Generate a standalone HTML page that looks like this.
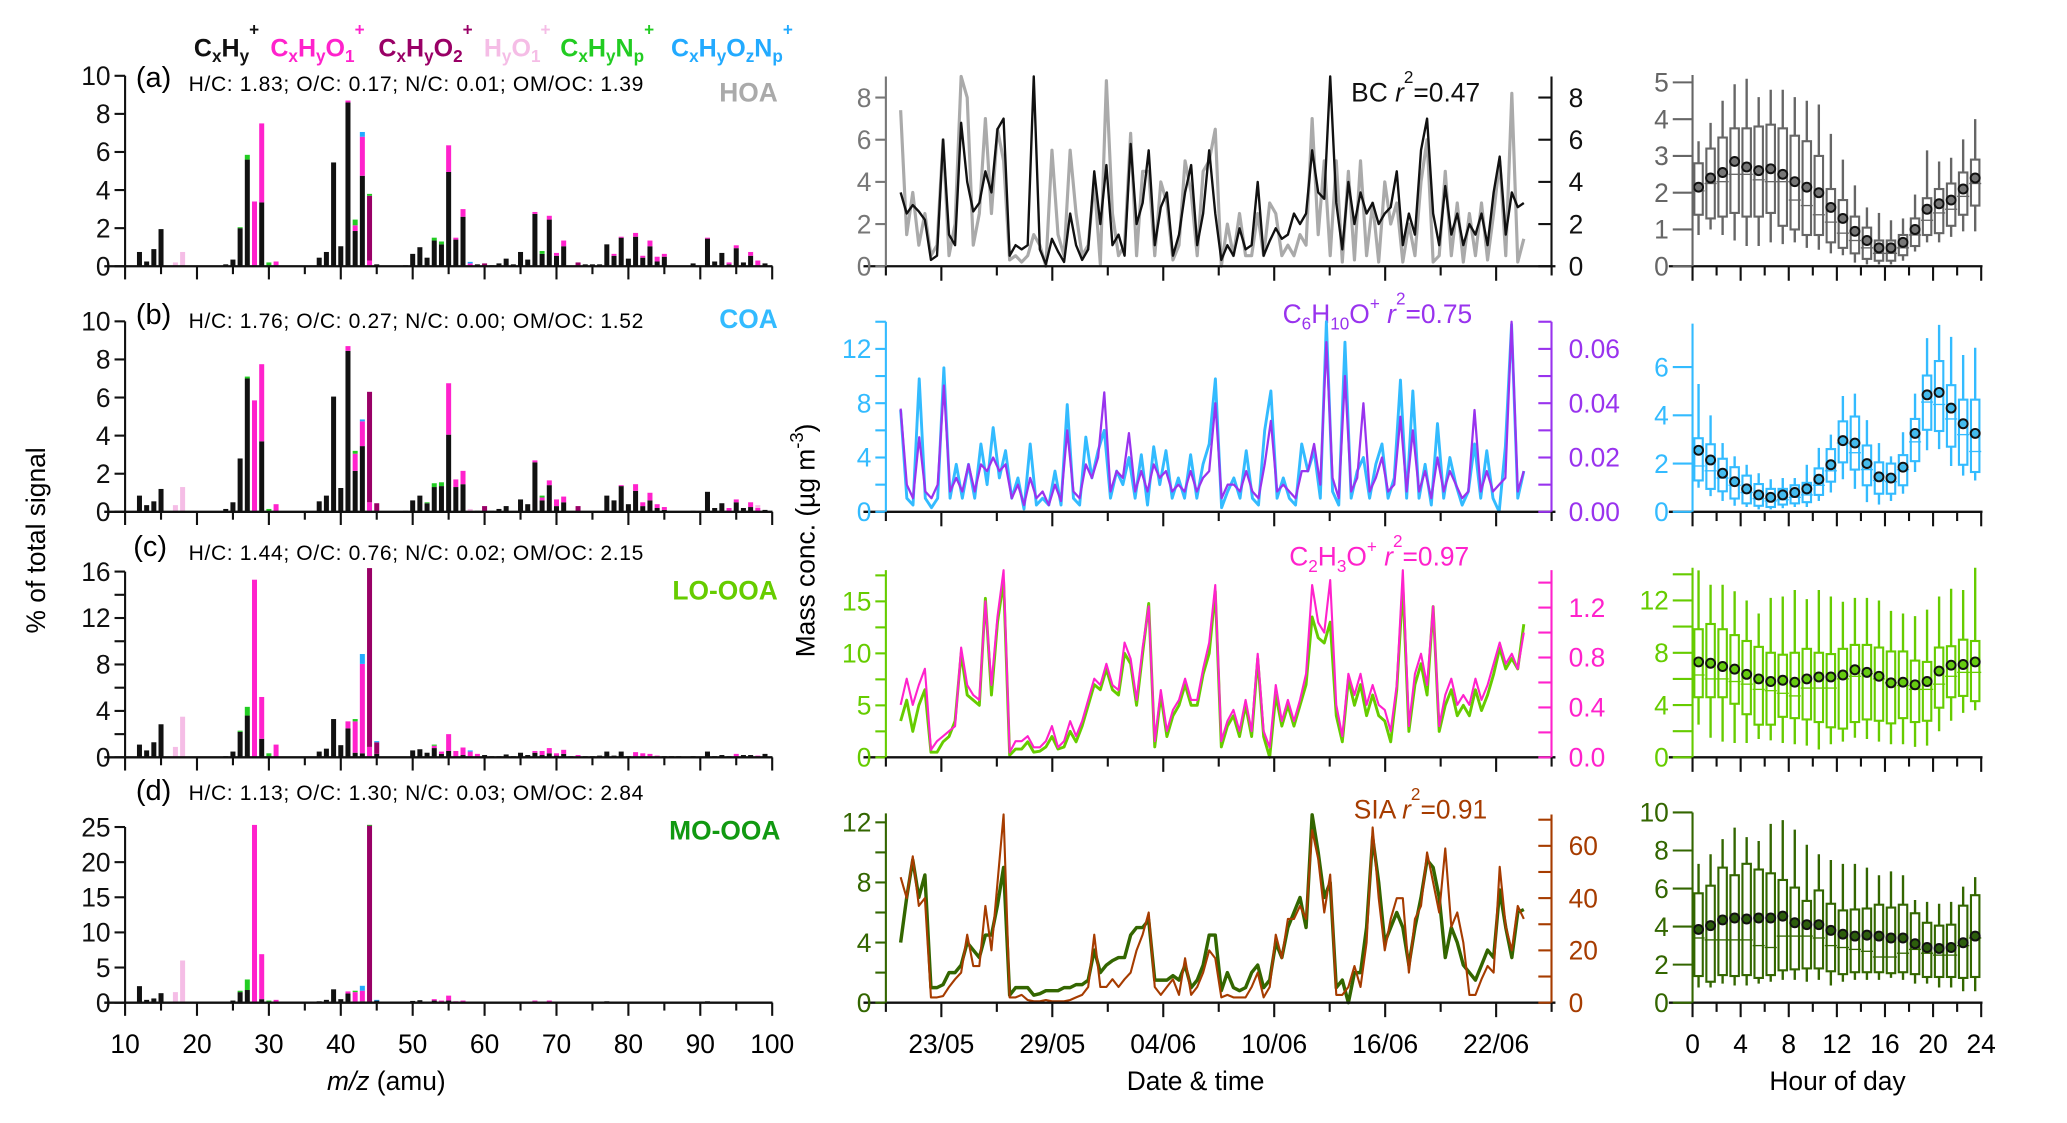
<!DOCTYPE html>
<html><head><meta charset="utf-8"><style>
html,body{margin:0;padding:0;background:#fff;}
svg{display:block;font-family:"Liberation Sans",sans-serif;}
</style></head><body>
<svg id="fig" width="2067" height="1123" viewBox="0 0 1568 852" xmlns="http://www.w3.org/2000/svg">
<g font-weight="bold" font-size="19">
<text x="147" y="43" fill="#111">C<tspan font-size="13" dy="4">x</tspan><tspan dy="-4">H</tspan><tspan font-size="13" dy="4">y</tspan><tspan font-size="13" dy="-20">+</tspan></text>
<text x="205" y="43" fill="#ff22cc">C<tspan font-size="13" dy="4">x</tspan><tspan dy="-4">H</tspan><tspan font-size="13" dy="4">y</tspan><tspan dy="-4">O</tspan><tspan font-size="13" dy="4">1</tspan><tspan font-size="13" dy="-20">+</tspan></text>
<text x="287" y="43" fill="#990066">C<tspan font-size="13" dy="4">x</tspan><tspan dy="-4">H</tspan><tspan font-size="13" dy="4">y</tspan><tspan dy="-4">O</tspan><tspan font-size="13" dy="4">2</tspan><tspan font-size="13" dy="-20">+</tspan></text>
<text x="367" y="43" fill="#f5bde6">H<tspan font-size="13" dy="4">y</tspan><tspan dy="-4">O</tspan><tspan font-size="13" dy="4">1</tspan><tspan font-size="13" dy="-20">+</tspan></text>
<text x="425" y="43" fill="#22cc22">C<tspan font-size="13" dy="4">x</tspan><tspan dy="-4">H</tspan><tspan font-size="13" dy="4">y</tspan><tspan dy="-4">N</tspan><tspan font-size="13" dy="4">p</tspan><tspan font-size="13" dy="-20">+</tspan></text>
<text x="509" y="43" fill="#22aaff">C<tspan font-size="13" dy="4">x</tspan><tspan dy="-4">H</tspan><tspan font-size="13" dy="4">y</tspan><tspan dy="-4">O</tspan><tspan font-size="13" dy="4">z</tspan><tspan dy="-4">N</tspan><tspan font-size="13" dy="4">p</tspan><tspan font-size="13" dy="-20">+</tspan></text>
</g>
<g>
<text x="103" y="66" font-size="22">(a)</text>
<text x="143" y="69" font-size="16" textLength="345">H/C: 1.83; O/C: 0.17; N/C: 0.01; OM/OC: 1.39</text>
<text x="590" y="77" font-size="20" font-weight="bold" fill="#aaaaaa" text-anchor="end">HOA</text>
<text x="103" y="246" font-size="22">(b)</text>
<text x="143" y="249" font-size="16" textLength="345">H/C: 1.76; O/C: 0.27; N/C: 0.00; OM/OC: 1.52</text>
<text x="590" y="249" font-size="20" font-weight="bold" fill="#33bbff" text-anchor="end">COA</text>
<text x="101" y="422" font-size="22">(c)</text>
<text x="143" y="425" font-size="16" textLength="345">H/C: 1.44; O/C: 0.76; N/C: 0.02; OM/OC: 2.15</text>
<text x="590" y="455" font-size="20" font-weight="bold" fill="#66cc00" text-anchor="end">LO-OOA</text>
<text x="103" y="607" font-size="22">(d)</text>
<text x="143" y="607" font-size="16" textLength="345">H/C: 1.13; O/C: 1.30; N/C: 0.03; OM/OC: 2.84</text>
<text x="592" y="637" font-size="20" font-weight="bold" fill="#119911" text-anchor="end">MO-OOA</text>
</g>
<g font-size="20">
<text transform="translate(34,410) rotate(-90)" text-anchor="middle">% of total signal</text>
<text transform="translate(618,410) rotate(-90)" text-anchor="middle">Mass conc. (µg m<tspan font-size="14" dy="-9">-3</tspan><tspan dy="9">)</tspan></text>
<text x="293" y="827" text-anchor="middle"><tspan font-style="italic">m/z</tspan> (amu)</text>
<text x="907" y="827" text-anchor="middle">Date &amp; time</text>
<text x="1394" y="827" text-anchor="middle">Hour of day</text>
</g>
<g font-size="20">
<text x="1025" y="77" fill="#111">BC <tspan font-style="italic">r</tspan><tspan font-size="13" dy="-14">2</tspan><tspan dy="14">=0.47</tspan></text>
<text x="973" y="245" fill="#9933ee">C<tspan font-size="13" dy="5">6</tspan><tspan dy="-5">H</tspan><tspan font-size="13" dy="5">10</tspan><tspan dy="-5">O</tspan><tspan font-size="13" dy="-10">+</tspan><tspan dy="10"> </tspan><tspan font-style="italic">r</tspan><tspan font-size="13" dy="-14">2</tspan><tspan dy="14">=0.75</tspan></text>
<text x="978" y="429" fill="#ff22cc">C<tspan font-size="13" dy="5">2</tspan><tspan dy="-5">H</tspan><tspan font-size="13" dy="5">3</tspan><tspan dy="-5">O</tspan><tspan font-size="13" dy="-10">+</tspan><tspan dy="10"> </tspan><tspan font-style="italic">r</tspan><tspan font-size="13" dy="-14">2</tspan><tspan dy="14">=0.97</tspan></text>
<text x="1027" y="621" fill="#a63c00">SIA <tspan font-style="italic">r</tspan><tspan font-size="13" dy="-14">2</tspan><tspan dy="14">=0.91</tspan></text>
</g>
</svg>
<script>
// ---------- mass spectra data: [m/z, CxHy, CxHyO1, CxHyO2, HyO1, CxHyNp, CxHyOzNp] ----------
const specA = [[12,.75,0,0,0,0,0],[13,.25,0,0,0,0,0],[14,.9,0,0,0,0,0],[15,1.95,0,0,0,0,0],[17,0,0,0,.2,0,0],[18,0,0,0,.75,0,0],[24,.1,0,0,0,0,0],[25,.35,0,0,0,0,0],[26,2.0,0,0,0,.05,0],[27,5.6,0,0,0,.25,0],[28,0,3.4,0,0,0,0],[29,3.35,4.15,0,0,0,0],[30,0,0,0,0,.2,0],[31,0,.25,0,0,0,0],[37,.45,0,0,0,0,0],[38,.75,0,0,0,0,0],[39,5.45,0,0,0,0,0],[40,1.05,0,0,0,0,0],[41,8.6,.1,0,0,0,0],[42,1.85,.3,0,0,.3,0],[43,4.75,2.05,0,0,0,.25],[44,0,.3,3.4,0,.1,0],[45,.1,0,0,0,0,0],[49,.05,0,0,0,0,0],[50,.65,0,0,0,0,0],[51,1.0,0,0,0,0,0],[52,.45,0,0,0,0,0],[53,1.35,0,0,0,.15,0],[54,1.15,0,0,0,.15,0],[55,4.95,1.4,0,0,0,0],[56,1.4,.1,0,0,0,0],[57,2.6,.4,0,0,0,0],[58,0,.15,0,0,0,.08],[59,.1,0,0,0,0,0],[60,0,0,.15,0,0,0],[61,.05,0,0,0,0,0],[62,.15,0,0,0,0,0],[63,.4,0,0,0,0,0],[64,.1,0,0,0,0,0],[65,.75,0,0,0,0,0],[66,.35,0,0,0,0,0],[67,2.75,.1,0,0,0,0],[68,.65,0,0,0,.15,0],[69,2.45,.2,0,0,0,0],[70,.55,.15,0,0,0,0],[71,1.05,.3,0,0,0,0],[73,0,0,.2,0,0,0],[74,.1,0,0,0,0,0],[75,.1,0,0,0,0,0],[76,.1,0,0,0,0,0],[77,1.15,0,0,0,0,0],[78,.55,.1,0,0,0,0],[79,1.5,.05,0,0,0,0],[80,.4,0,0,0,0,0],[81,1.55,.2,0,0,0,0],[82,.45,.1,0,0,0,0],[83,1.05,.3,0,0,0,0],[84,.25,.25,0,0,0,0],[85,.5,.15,0,0,0,0],[89,.15,0,0,0,0,0],[91,1.45,.05,0,0,0,0],[92,.25,0,0,0,0,0],[93,.7,0,0,0,0,0],[94,.1,.1,0,0,0,0],[95,.95,.15,0,0,0,0],[96,.2,0,0,0,0,0],[97,.55,.2,0,0,0,0],[98,0,.3,0,0,0,0],[99,.15,0,0,0,0,0]];
const specB = [[12,.85,0,0,0,0,0],[13,.35,0,0,0,0,0],[14,.55,0,0,0,0,0],[15,1.2,0,0,0,0,0],[17,0,0,0,.35,0,0],[18,0,0,0,1.3,0,0],[24,.15,0,0,0,0,0],[25,.5,0,0,0,0,0],[26,2.8,0,0,0,0,0],[27,7.0,0,0,0,.1,0],[28,0,5.85,0,0,0,0],[29,3.7,4.05,0,0,0,0],[30,0,0,0,0,.15,0],[31,0,.4,0,0,0,0],[37,.55,0,0,0,0,0],[38,.85,0,0,0,0,0],[39,6.05,0,0,0,0,0],[40,1.25,0,0,0,0,0],[41,8.45,.25,0,0,0,0],[42,2.15,.9,0,0,.15,0],[43,3.45,1.3,0,0,0,.1],[44,0,.5,5.8,0,0,0],[45,0,0,.45,0,0,0],[49,.05,0,0,0,0,0],[50,.6,0,0,0,0,0],[51,.85,0,0,0,0,0],[52,.45,0,0,0,.05,0],[53,1.3,0,0,0,.2,0],[54,1.35,0,0,0,.2,0],[55,4.05,2.7,0,0,0,0],[56,1.3,.4,0,0,0,0],[57,1.45,.7,0,0,0,0],[58,0,0,0,.15,0,0],[59,.05,0,0,0,0,0],[60,0,0,.3,0,0,0],[61,.05,0,0,0,0,0],[62,.15,0,0,0,0,0],[63,.3,0,0,0,0,0],[65,.65,0,0,0,0,0],[66,.4,0,0,0,0,0],[67,2.6,.1,0,0,0,0],[68,.6,.15,0,0,.1,0],[69,1.4,.25,0,0,0,0],[70,.3,.35,0,0,0,0],[71,.5,.3,0,0,0,0],[73,0,0,.3,0,0,0],[77,.85,0,0,0,0,0],[78,.6,0,0,0,0,0],[79,1.35,.05,0,0,0,0],[80,.4,0,0,0,0,0],[81,1.1,.35,0,0,0,0],[82,.3,.2,0,0,0,0],[83,.6,.4,0,0,0,0],[84,.2,.2,0,0,0,0],[85,.1,.15,0,0,0,0],[89,.05,0,0,0,0,0],[91,1.05,0,0,0,0,0],[92,.2,0,0,0,0,0],[93,.45,0,0,0,0,0],[94,0,.2,0,0,0,0],[95,.5,.15,0,0,0,0],[96,.2,0,0,0,0,0],[97,.25,.25,0,0,0,0],[98,0,.2,0,.15,0,0],[99,.1,0,0,0,0,0]];
const specC = [[12,1.1,0,0,0,0,0],[13,.6,0,0,0,0,0],[14,1.3,0,0,0,0,0],[15,2.85,0,0,0,0,0],[17,0,0,0,.9,0,0],[18,0,0,0,3.5,0,0],[24,.1,0,0,0,0,0],[25,.5,0,0,0,0,0],[26,2.2,0,0,0,.1,0],[27,3.6,0,0,0,.75,0],[28,0,15.3,0,0,0,0],[29,1.6,3.6,0,0,0,0],[30,.1,0,0,0,.25,0],[31,0,1.1,0,0,0,0],[37,.5,0,0,0,0,0],[38,.75,0,0,0,0,0],[39,3.3,0,0,0,0,0],[40,1.05,0,0,0,0,0],[41,2.5,.6,0,0,0,0],[42,.4,2.7,0,0,.2,0],[43,.35,7.7,0,0,0,.85],[44,0,.9,15.4,0,0,0],[45,.3,0,1.0,0,0,.1],[50,.6,0,0,0,0,0],[51,.7,0,0,0,0,0],[52,.4,0,0,0,0,0],[53,.8,.2,0,0,.1,0],[54,.3,.2,0,0,0,0],[55,.55,1.45,0,0,0,0],[56,0,.55,0,0,0,0],[57,.2,.65,0,0,0,0],[58,0,.5,0,0,0,.1],[59,0,.3,0,0,0,0],[60,.2,0,0,0,0,0],[61,.1,0,0,0,0,0],[62,.1,0,0,0,0,0],[63,.25,0,0,0,0,0],[64,.1,0,0,0,0,0],[65,.4,0,0,0,0,0],[66,.2,0,0,0,0,0],[67,.4,.15,0,0,0,0],[68,.2,.35,0,0,0,0],[69,.35,.45,0,0,0,0],[70,.15,.2,0,0,0,0],[71,.3,.35,0,0,0,0],[72,.1,0,0,0,0,0],[73,0,.2,0,0,0,0],[74,.1,0,0,0,0,0],[75,.1,0,0,0,0,0],[76,.15,0,0,0,0,0],[77,.5,0,0,0,0,0],[78,.15,0,0,0,0,0],[79,.5,0,0,0,0,0],[80,.1,0,0,0,0,0],[81,0,.45,0,0,0,0],[82,0,.35,0,0,0,0],[83,0,.3,0,0,0,0],[84,0,.15,0,0,0,0],[85,.1,0,0,0,0,0],[86,.1,0,0,0,0,0],[87,.1,0,0,0,0,0],[89,.1,0,0,0,0,0],[91,.5,0,0,0,0,0],[92,.1,0,0,0,0,0],[93,.2,0,0,0,0,0],[94,.1,0,0,0,0,0],[95,0,.3,0,0,0,0],[96,.2,0,0,0,0,0],[97,.2,0,0,0,0,0],[98,0,.15,0,0,0,0],[99,.3,0,0,0,0,0]];
const specD = [[12,2.35,0,0,0,0,0],[13,.4,0,0,0,0,0],[14,.6,0,0,0,0,0],[15,1.35,0,0,0,0,0],[16,0,0,0,0,0,.1],[17,0,0,0,1.5,0,0],[18,0,0,0,6.0,0,0],[25,.3,0,0,0,0,0],[26,1.5,0,0,0,.2,0],[27,1.8,0,0,0,1.5,0],[28,0,26.8,0,0,0,0],[29,.5,6.4,0,0,0,0],[30,0,0,0,0,.3,0],[31,0,.4,0,0,0,0],[37,.2,0,0,0,0,0],[38,.4,0,0,0,0,0],[39,1.9,0,0,0,0,0],[40,.5,0,0,0,0,0],[41,1.3,.3,0,0,0,0],[42,0,1.5,0,0,.2,0],[43,.2,1.5,0,0,0,.7],[44,0,0,26.9,0,.2,0],[45,.3,0,0,0,0,.1],[50,.25,0,0,0,0,0],[51,.35,0,0,0,0,0],[52,.1,0,0,0,0,0],[53,.3,.2,0,0,0,0],[54,0,.3,0,0,0,0],[55,.3,.7,0,0,0,0],[56,0,.2,0,0,0,0],[57,0,.3,0,0,0,0],[67,.2,.1,0,0,0,0],[69,0,.3,0,0,0,0],[77,.2,0,0,0,0,0],[79,.15,0,0,0,0,0],[81,0,.1,0,0,0,0],[91,.2,0,0,0,0,0]];
const mzTicks = [10,20,30,40,50,60,70,80,90,100];

// ---------- time series data (evenly sampled, day 0.8 to 34.5 after 20/05) ----------
const hoaSeries = [3.5,2.5,2.9,2.6,2.2,0.3,0.5,6.0,1.5,1.0,6.8,4.0,2.6,3.0,4.5,3.5,6.5,7.0,0.5,1.0,0.8,1.0,9.0,0.8,0.1,1.3,0.7,0.2,2.5,1.0,0.3,0.8,4.5,2.0,4.8,1.0,1.5,0.5,5.8,2.0,3.0,5.5,1.0,2.8,3.5,0.5,1.5,3.5,4.8,1.0,2.5,5.5,2.5,0.3,1.0,0.5,1.8,0.8,1.0,4.0,0.5,1.2,1.8,1.3,1.5,2.5,2.0,2.5,5.5,3.5,3.2,9.0,3.0,0.8,4.0,2.0,3.5,2.5,3.0,2.0,2.5,2.8,4.5,1.0,2.5,1.5,5.5,7.0,2.5,1.0,3.8,1.5,2.5,1.0,2.0,1.5,2.5,1.0,3.5,5.2,1.5,3.5,2.8,3.0];
const bcSeries = [7.4,1.5,3.5,1.0,2.5,0.5,1.0,6.0,0.5,2.0,9.0,8.0,1.0,2.5,7.0,2.5,6.5,5.0,0.3,0.5,0.2,0.5,1.5,1.0,0.0,5.5,1.5,0.5,5.5,2.5,0.5,1.0,4.0,0.1,8.8,2.5,0.5,1.0,6.3,0.5,4.5,4.5,0.5,4.0,3.0,0.3,1.0,5.0,3.5,0.5,4.5,5.0,6.5,0.0,2.0,0.5,2.5,0.5,0.5,2.5,0.5,3.0,2.5,0.5,1.0,0.5,1.5,1.0,7.0,1.5,5.0,0.5,5.0,0.2,4.5,0.3,5.0,0.5,3.0,0.2,4.0,2.0,3.0,0.2,2.0,0.5,4.0,6.0,0.2,0.5,4.5,0.5,3.0,0.2,2.5,0.5,3.0,0.3,2.5,5.0,0.5,8.2,0.2,1.3];
const coaSeries = [7.5,1.0,0.5,9.8,1.0,0.3,1.0,10.6,1.0,3.5,1.0,3.5,1.0,5.0,2.0,6.2,2.5,4.5,1.0,2.5,0.2,5.0,0.5,1.0,0.5,3.0,0.5,7.9,1.0,0.5,5.5,2.5,4.5,6.0,1.0,3.0,2.0,4.0,1.0,4.2,0.5,4.8,2.0,4.5,1.0,2.5,1.0,4.2,1.0,3.5,5.0,9.8,0.3,1.5,2.5,1.0,4.5,1.0,0.5,6.0,8.9,1.0,2.5,1.0,0.5,5.0,3.0,4.5,1.0,14.0,1.5,0.5,12.5,1.0,3.0,4.0,1.0,3.5,5.0,1.0,2.5,9.7,1.0,8.9,1.0,3.5,0.5,6.5,1.0,4.0,2.0,0.5,1.5,5.0,1.0,4.5,1.0,0.0,4.8,13.8,1.0,3.0];
const c6h10oSeries = [.038,.010,.005,.0275,.0075,.005,.010,.0465,.0075,.0125,.0075,.0175,.0075,.0175,.015,.020,.015,.0175,.005,.010,.0025,.0125,.005,.0075,.0025,.010,.004,.030,.0075,.005,.0175,.0125,.020,.044,.0075,.015,.0125,.029,.0075,.015,.0075,.0175,.0125,.015,.0075,.010,.0075,.015,.0075,.0125,.015,.040,.005,.010,.010,.0075,.015,.0075,.005,.0175,.0335,.0075,.010,.0075,.005,.015,.015,.025,.010,.0625,.0125,.005,.050,.0075,.0125,.040,.0075,.0125,.020,.0075,.010,.035,.0075,.030,.0075,.015,.005,.020,.0075,.015,.010,.005,.0075,.0375,.0075,.015,.0075,.010,.0125,.070,.0075,.015];
const looaSeries = [3.5,5.5,2.5,5.0,6.5,0.5,0.5,1.5,2.0,3.5,10.0,6.0,5.5,5.0,15.3,6.0,13.0,17.0,0.2,0.8,0.8,1.5,0.5,0.6,1.0,2.0,0.8,1.0,2.5,1.5,3.0,5.0,7.0,6.5,8.5,6.5,6.0,10.0,9.0,5.0,10.0,14.8,1.0,6.0,2.0,4.0,5.0,7.0,5.0,5.0,8.0,10.0,16.0,1.0,3.0,4.0,2.0,5.0,2.0,9.5,2.0,0.0,6.0,3.0,5.0,3.0,5.0,7.0,13.5,11.5,11.0,13.0,4.0,1.5,7.5,5.0,7.0,4.0,6.0,4.0,3.5,1.5,6.5,16.5,2.5,7.0,9.0,6.0,14.5,2.5,5.0,6.5,4.0,5.0,4.0,6.5,4.5,6.0,8.0,10.5,8.5,9.5,8.5,12.8];
const c2h3oSeries = [.42,.63,.42,.58,.71,.06,.13,.17,.21,.25,.88,.58,.50,.46,1.25,.58,1.13,1.5,.04,.13,.13,.17,.08,.08,.13,.25,.08,.13,.29,.17,.29,.46,.63,.58,.75,.58,.54,.92,.79,.46,.88,1.21,.13,.54,.21,.38,.46,.63,.46,.46,.71,.92,1.38,.13,.29,.38,.21,.46,.21,.83,.21,.08,.58,.29,.46,.29,.46,.67,1.38,1.08,1.0,1.42,.42,.17,.67,.5,.67,.42,.58,.42,.38,.21,.58,1.5,.25,.67,.83,.58,1.21,.25,.5,.63,.42,.5,.42,.63,.46,.58,.75,.92,.75,.83,.71,1.0];
const moooaSeries = [4.0,7.0,9.5,7.0,8.5,1.0,1.0,1.2,2.0,2.0,2.5,4.0,3.5,3.0,4.5,4.5,6.5,9.0,0.5,1.0,1.0,1.0,0.5,0.6,0.8,0.8,0.8,1.0,1.0,1.2,1.2,1.5,3.5,2.0,2.5,2.8,3.0,3.0,4.5,5.0,5.0,5.5,1.5,1.5,1.5,1.8,1.5,2.5,1.0,1.5,2.5,4.5,4.5,0.8,2.0,1.0,0.8,1.0,2.0,2.5,1.0,1.5,4.0,3.0,5.0,6.0,7.0,5.0,12.5,10.0,7.0,8.0,1.0,1.5,0.0,2.0,2.0,5.0,11.0,8.0,4.0,5.0,6.0,5.0,2.5,5.0,7.0,9.5,9.0,7.0,3.0,5.0,4.0,2.5,2.0,1.5,2.5,3.5,3.0,7.5,5.0,3.0,6.0,6.2];
const siaSeries = [48,40,56,37,40,2,2,2.5,6,9,11.5,26,14,14,37,20,46,72,2,2,3,1,.5,.5,1,.5,.5,.5,1,2,3,6,26,6,6,9,6,9,11.5,20,26,34.5,6,3,6,9,3,17,3,6,11.5,20,17,2,3,2,2,2,6,11.5,2,6,26,17,32,32,37,32,66,55,34.5,49,3,3,6,14,6,23,67,40,20,32,40,40,11.5,32,37,57.5,46,34.5,59,29,34.5,23,3,3,9,14,11.5,52,29,20,37,32];
const dateTickLabels = ['23/05','29/05','04/06','10/06','16/06','22/06'];
const dateTickDays = [3,9,15,21,27,33];

// ---------- diurnal data (hour 0..23): p90, p75, p25, p10, mean, median ----------
const hoaP90 = [3.4,3.9,4.5,4.95,5.1,4.6,4.8,4.8,4.6,4.5,4.4,3.6,2.9,2.2,1.6,1.45,1.25,1.3,1.95,3.15,2.85,2.95,3.45,4.0];
const hoaP75 = [2.8,3.2,3.5,3.75,3.75,3.8,3.85,3.75,3.55,3.4,3.0,2.1,1.8,1.35,1.05,0.7,0.7,0.85,1.3,1.85,2.1,2.25,2.55,2.9];
const hoaP25 = [1.4,1.3,1.35,1.45,1.35,1.35,1.45,1.1,1.0,0.85,0.85,0.65,0.5,0.35,0.2,0.15,0.15,0.3,0.55,0.85,0.9,1.1,1.4,1.65];
const hoaP10 = [0.85,1.0,0.85,0.7,0.55,0.55,0.65,0.6,0.65,0.5,0.45,0.35,0.3,0.1,0.05,0.05,0.05,0.15,0.4,0.65,0.65,0.8,0.95,0.95];
const hoaMean = [2.15,2.4,2.55,2.85,2.7,2.6,2.65,2.5,2.3,2.15,2.0,1.6,1.3,0.95,0.7,0.5,0.5,0.65,1.0,1.55,1.7,1.8,2.1,2.4];
const hoaMedian = [2.05,2.25,2.3,2.5,2.5,2.35,2.3,2.3,1.8,1.65,1.4,1.2,0.9,0.7,0.5,0.35,0.35,0.5,0.85,1.25,1.45,1.55,1.9,2.25];
const coaP90 = [5.3,4.0,2.85,2.3,1.95,1.6,1.35,1.4,1.4,1.95,2.65,3.2,4.8,4.9,3.8,2.85,2.3,3.3,4.9,7.2,7.75,7.25,6.5,6.8];
const coaP75 = [3.05,2.8,2.2,1.85,1.5,1.15,0.95,0.95,1.1,1.2,1.8,2.6,3.75,3.95,2.75,2.05,2.0,2.35,3.85,5.65,6.25,5.25,4.65,4.65];
const coaP25 = [1.3,0.95,0.85,0.55,0.35,0.25,0.2,0.3,0.35,0.4,0.7,1.25,2.05,1.75,1.1,0.75,0.75,1.1,2.1,3.4,3.35,2.7,1.95,1.65];
const coaP10 = [1.0,0.65,0.45,0.25,0.2,0.1,0.1,0.15,0.2,0.2,0.45,0.8,1.35,0.95,0.4,0.3,0.45,0.75,1.65,2.55,2.6,1.9,1.5,1.3];
const coaMean = [2.55,2.15,1.6,1.25,0.95,0.7,0.6,0.7,0.8,0.95,1.35,1.95,2.95,2.85,2.0,1.45,1.4,1.85,3.25,4.85,4.95,4.3,3.65,3.25];
const coaMedian = [1.9,1.7,1.4,1.1,0.8,0.55,0.45,0.5,0.6,0.7,1.1,1.7,2.85,2.45,1.75,1.3,1.25,1.75,2.9,4.55,4.45,3.85,3.2,2.5];
const looaP90 = [14.3,13.2,13.2,12.7,12.0,11.0,12.2,12.3,12.8,12.1,12.8,12.3,11.9,12.2,12.2,12.0,11.2,11.0,10.8,11.3,12.3,12.9,12.8,14.5];
const looaP75 = [9.8,10.2,9.8,9.35,8.9,8.45,8.0,7.85,8.0,8.3,8.0,7.9,8.3,8.6,8.6,8.4,8.1,8.1,7.4,7.3,8.4,8.5,9.0,8.9];
const looaP25 = [4.6,4.6,4.6,4.1,3.3,2.5,2.5,3.1,3.0,2.9,2.7,2.3,2.2,2.7,2.9,2.8,2.6,3.0,2.7,2.8,3.8,4.6,4.7,4.3];
const looaP10 = [2.5,1.5,1.2,1.1,1.1,1.4,1.3,1.1,1.0,0.9,0.6,1.0,1.2,1.5,1.4,1.2,1.0,1.0,0.8,0.9,2.0,2.8,3.4,3.6];
const looaMean = [7.3,7.2,6.95,6.75,6.35,6.0,5.8,5.9,5.75,6.0,6.15,6.15,6.3,6.7,6.5,6.2,5.7,5.75,5.55,5.8,6.6,7.05,7.1,7.3];
const looaMedian = [6.3,6.0,6.0,5.8,5.6,5.2,5.1,4.9,4.7,5.3,5.3,5.3,6.0,6.2,6.4,6.0,5.7,5.5,5.2,5.2,5.6,6.2,6.5,6.5];
const moooaP90 = [7.3,7.8,8.6,9.2,8.7,8.5,9.4,9.6,9.1,8.3,7.8,7.5,7.3,7.3,7.1,6.7,6.9,6.7,5.4,5.3,5.2,5.3,6.1,6.6];
const moooaP75 = [5.75,6.15,7.1,6.7,7.3,7.0,6.8,6.45,6.05,5.35,5.9,5.2,4.85,4.9,4.95,5.15,5.0,5.15,4.7,4.2,4.05,4.1,5.1,5.65];
const moooaP25 = [1.4,1.1,1.45,1.4,1.45,1.3,1.45,1.7,1.75,1.8,1.8,1.65,1.5,1.6,1.6,1.6,1.55,1.6,1.5,1.35,1.35,1.35,1.3,1.35];
const moooaP10 = [0.8,0.8,1.0,0.9,0.9,1.0,1.1,1.2,1.2,1.1,1.2,0.9,1.1,1.2,1.2,1.2,1.3,1.2,1.0,1.0,0.8,0.8,0.6,0.6];
const moooaMean = [3.85,4.05,4.35,4.45,4.4,4.45,4.45,4.55,4.2,4.1,4.1,3.8,3.6,3.5,3.55,3.5,3.4,3.4,3.1,2.9,2.85,2.9,3.15,3.5];
const moooaMedian = [3.4,3.3,3.3,3.3,3.3,3.0,2.9,3.5,3.5,3.5,3.4,3.0,2.9,2.8,2.7,2.4,2.4,2.6,2.8,2.6,2.5,2.5,3.0,3.4];
const hourTickLabels = [0,4,8,12,16,20,24];

// ---------- rendering ----------
const svg = document.getElementById('fig');
const NS = 'http://www.w3.org/2000/svg';
function mk(tag, parent) { const e = document.createElementNS(NS, tag); parent.appendChild(e); return e; }
function setA(e, o) { for (const k in o) e.setAttribute(k, o[k]); }

const barColors = ['#111111','#ff22cc','#990066','#f5bde6','#22cc22','#22aaff'];
const barNames = ['cxhy','cxhyo1','cxhyo2','hyo1','cxhynp','cxhyoznp'];

function yTicks(g, x, y0, ppu, top, step, labelStep, color, side, fmt, lblColor, tickLen, showLabels) {
  const line = mk('line', g);
  
  
  setA(line, {x1:x, x2:x, y1:y0, y2:y0 - top*ppu, stroke:color, 'stroke-width':1.6});
  const n = Math.floor(top/step + 1e-6);
  for (let i = 0; i <= n; i++) {
    const v = i*step; const y = y0 - v*ppu;
    const t = mk('line', g);
    
    
    setA(t, {x1:x, x2:x + (side==='left'?-tickLen:tickLen), y1:y, y2:y, stroke:color, 'stroke-width':1.6});
    const r = v/labelStep;
    if (showLabels && Math.abs(r - Math.round(r)) < 1e-6) {
      const tx = mk('text', g);
      
      
      const lx = side==='left' ? x - tickLen - 3 : x + 22;
      setA(tx, {x:lx, y:y + 7, 'font-size':20, fill:lblColor||color, 'text-anchor': side==='left'?'end':'start'});
      tx.textContent = fmt ? fmt(v) : String(v);
    }
  }
}
function xAxisLine(g, x1, x2, y) {
  const l = mk('line', g);
  
  
  setA(l, {x1:x1, x2:x2, y1:y, y2:y, stroke:'#111', 'stroke-width':1.8});
}
function xTick(g, x, y, len) {
  const t = mk('line', g);
  
  
  setA(t, {x1:x, x2:x, y1:y, y2:y+len, stroke:'#111', 'stroke-width':1.6});
}

// Left: mass spectra
const specPanels = [
  {data:specA, y0:202, top:10, ppu:14.45, step:2, lab:2, name:'spectrum-hoa'},
  {data:specB, y0:388.3, top:10, ppu:14.45, step:2, lab:2, name:'spectrum-coa'},
  {data:specC, y0:574.6, top:16, ppu:8.81, step:2, lab:4, name:'spectrum-lo-ooa'},
  {data:specD, y0:760.7, top:25, ppu:5.33, step:5, lab:5, name:'spectrum-mo-ooa'}
];
const mzX = mz => 94.8 + (mz - 10)*5.455;
specPanels.forEach((p, pi) => {
  const g = mk('g', svg);
  
  
  const ys = v => p.y0 - v*p.ppu;
  p.data.forEach(row => {
    let acc = 0;
    for (let k = 1; k <= 6; k++) {
      const v = row[k]; if (!v) continue;
      const r = mk('rect', g);
      
      
      const yTop = ys(Math.min(acc + v, p.top + 0.3));
      setA(r, {x:mzX(row[0]) - 1.9, width:3.8, y:yTop, height:Math.max(0.6, ys(acc) - yTop), fill:barColors[k-1]});
      acc += v;
    }
  });
  xAxisLine(g, 79, 586, p.y0);
  yTicks(g, 94.8, p.y0, p.ppu, p.top, p.step, p.lab, '#111', 'left', null, '#111', 8, true);
  for (let m = 10; m <= 100; m += 5) xTick(g, mzX(m), p.y0, m % 10 === 0 ? 10 : 6);
  if (pi === 3) {
    mzTicks.forEach(m => {
      const t = mk('text', g);
      
      
      setA(t, {x:mzX(m), y:799, 'font-size':20, 'text-anchor':'middle'});
      t.textContent = m;
    });
  }
});

// Middle: time series
const dayX = d => 672 + d*14.03;
const tStart = 0.8, tEnd = 34.5;
const tsPanels = [
  {y0:202, lTop:9, lPpu:16, lStep:2, lLab:2, lColor:'#777777', rTop:9, rPpu:16, rStep:2, rLab:2, rColor:'#111111', rFmt:v=>String(v),
   series:[{d:bcSeries, axis:'r', color:'#aaaaaa', w:2.4, n:'bc-line'},{d:hoaSeries, axis:'l', color:'#111111', w:1.8, n:'hoa-line'}], name:'timeseries-hoa'},
  {y0:388.3, lTop:14, lPpu:10.3, lStep:2, lLab:4, lColor:'#33bbff', rTop:0.07, rPpu:2060, rStep:0.01, rLab:0.02, rColor:'#9933ee', rFmt:v=>v.toFixed(2),
   series:[{d:coaSeries, axis:'l', color:'#33bbff', w:2.2, n:'coa-line'},{d:c6h10oSeries, axis:'r', color:'#9933ee', w:1.7, n:'c6h10o-line'}], name:'timeseries-coa'},
  {y0:574.6, lTop:18, lPpu:7.89, lStep:2.5, lLab:5, lColor:'#66cc00', rTop:1.5, rPpu:94.7, rStep:0.2, rLab:0.4, rColor:'#ff22cc', rFmt:v=>v.toFixed(1),
   series:[{d:looaSeries, axis:'l', color:'#66cc00', w:2.2, n:'lo-ooa-line'},{d:c2h3oSeries, axis:'r', color:'#ff22cc', w:1.6, n:'c2h3o-line'}], name:'timeseries-lo-ooa'},
  {y0:760.7, lTop:12.6, lPpu:11.4, lStep:2, lLab:4, lColor:'#336600', rTop:72, rPpu:1.983, rStep:10, rLab:20, rColor:'#a63c00', rFmt:v=>String(v),
   series:[{d:moooaSeries, axis:'l', color:'#336600', w:2.6, n:'mo-ooa-line'},{d:siaSeries, axis:'r', color:'#a63c00', w:1.6, n:'sia-line'}], name:'timeseries-mo-ooa'}
];
tsPanels.forEach((p, pi) => {
  const g = mk('g', svg);
  
  
  p.series.forEach(s => {
    const ppu = s.axis === 'l' ? p.lPpu : p.rPpu;
    const top = s.axis === 'l' ? p.lTop : p.rTop;
    const n = s.d.length;
    const pts = s.d.map((v, i) => {
      const t = tStart + i*(tEnd - tStart)/(n - 1);
      return dayX(t).toFixed(1) + ',' + (p.y0 - Math.min(v, top)*ppu).toFixed(1);
    }).join(' ');
    const pl = mk('polyline', g);
    
    
    setA(pl, {points:pts, fill:'none', stroke:s.color, 'stroke-width':s.w, 'stroke-linejoin':'round'});
  });
  xAxisLine(g, 655, 1180, p.y0);
  yTicks(g, 672, p.y0, p.lPpu, p.lTop, p.lStep, p.lLab, p.lColor, 'left', null, p.lColor, 8, true);
  yTicks(g, 1177, p.y0, p.rPpu, p.rTop, p.rStep, p.rLab, p.rColor, 'left', p.rFmt, p.rColor, 10, false);
  const rn = Math.floor(p.rTop/p.rStep + 1e-6);
  for (let i = 0; i <= rn; i++) {
    const v = i*p.rStep, y = p.y0 - v*p.rPpu;
    const r = v/p.rLab;
    if (Math.abs(r - Math.round(r)) < 1e-6) {
      const tx = mk('text', g);
      
      
      setA(tx, {x:1190, y:y + 7, 'font-size':20, fill:p.rColor});
      tx.textContent = p.rFmt(v);
    }
  }
  for (let d = 0; d <= 36; d += 3) xTick(g, dayX(d), p.y0, (d % 6 === 3) ? 11 : 7);
  if (pi === 3) {
    dateTickLabels.forEach((lab, i) => {
      const t = mk('text', g);
      
      
      setA(t, {x:dayX(dateTickDays[i]), y:799, 'font-size':20, 'text-anchor':'middle'});
      t.textContent = lab;
    });
  }
});

// Right: diurnal boxplots
const hourX = h => 1284 + h*9.125;
const dPanels = [
  {p90:hoaP90,p75:hoaP75,p25:hoaP25,p10:hoaP10,mean:hoaMean,med:hoaMedian, y0:202, ppu:27.9, top:5.2, step:1, lab:1, color:'#666666', dot:'#777777', name:'diurnal-hoa'},
  {p90:coaP90,p75:coaP75,p25:coaP25,p10:coaP10,mean:coaMean,med:coaMedian, y0:388.3, ppu:18.3, top:7.8, step:2, lab:2, color:'#33bbff', dot:'#44bbee', name:'diurnal-coa'},
  {p90:looaP90,p75:looaP75,p25:looaP25,p10:looaP10,mean:looaMean,med:looaMedian, y0:574.6, ppu:9.92, top:14.5, step:2, lab:4, color:'#66cc00', dot:'#66cc11', name:'diurnal-lo-ooa'},
  {p90:moooaP90,p75:moooaP75,p25:moooaP25,p10:moooaP10,mean:moooaMean,med:moooaMedian, y0:760.7, ppu:14.43, top:10, step:2, lab:2, color:'#336600', dot:'#2d5e0d', name:'diurnal-mo-ooa'}
];
dPanels.forEach((p, pi) => {
  const g = mk('g', svg);
  
  
  const ys = v => p.y0 - v*p.ppu;
  for (let h = 0; h < 24; h++) {
    const cx = hourX(h + 0.5);
    const w = mk('line', g);
    
    
    setA(w, {x1:cx, x2:cx, y1:ys(p.p90[h]), y2:ys(p.p10[h]), stroke:p.color, 'stroke-width':1.8});
    const b = mk('rect', g);
    
    
    setA(b, {x:cx - 3.2, width:6.4, y:ys(p.p75[h]), height:ys(p.p25[h]) - ys(p.p75[h]), fill:'#fff', stroke:p.color, 'stroke-width':1.6});
    const m = mk('line', g);
    
    
    setA(m, {x1:cx - 4.6, x2:cx + 4.6, y1:ys(p.med[h]), y2:ys(p.med[h]), stroke:p.color, 'stroke-width':1});
  }
  for (let h = 0; h < 24; h++) {
    const c = mk('circle', g);
    
    
    setA(c, {cx:hourX(h + 0.5), cy:ys(p.mean[h]), r:3.4, fill:p.dot, stroke:'#111', 'stroke-width':1.5});
  }
  xAxisLine(g, 1266, 1504, p.y0);
  yTicks(g, 1284, p.y0, p.ppu, p.top, p.step, p.lab, p.color, 'left', null, p.color, 15, true);
  for (let h = 0; h <= 24; h += 2) xTick(g, hourX(h), p.y0, h % 4 === 0 ? 11 : 7);
  if (pi === 3) {
    hourTickLabels.forEach(h => {
      const t = mk('text', g);
      
      
      setA(t, {x:hourX(h), y:799, 'font-size':20, 'text-anchor':'middle'});
      t.textContent = h;
    });
  }
});
</script>
</body></html>
